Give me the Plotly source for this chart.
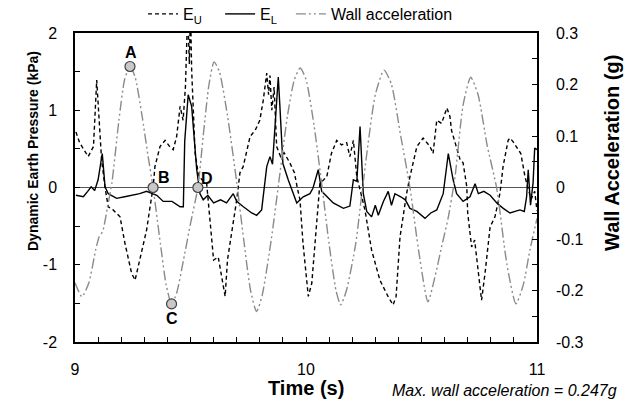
import plotly.graph_objects as go

# ---- data ----
wall_t = [9.000, 9.030, 9.060, 9.090, 9.105, 9.120, 9.140, 9.160, 9.190, 9.215, 9.238, 9.260, 9.290,
          9.315, 9.338, 9.370, 9.395, 9.418, 9.440, 9.470, 9.500, 9.532, 9.555, 9.580, 9.602, 9.625,
          9.660, 9.700, 9.730, 9.760, 9.786, 9.810, 9.850, 9.885, 9.920, 9.950, 9.975, 10.000, 10.035,
          10.070, 10.100, 10.130, 10.150, 10.175, 10.215, 10.245, 10.300, 10.338, 10.370, 10.410,
          10.450, 10.490, 10.528, 10.560, 10.587, 10.615, 10.645, 10.680, 10.713, 10.745, 10.785,
          10.825, 10.870, 10.909, 10.940, 10.970, 11.000]
wall_g = [-0.185, -0.212, -0.185, -0.120, -0.095, -0.085, -0.040, 0.010, 0.130, 0.210, 0.235, 0.215, 0.140,
          0.065, 0.000, -0.110, -0.190, -0.226, -0.205, -0.140, -0.070, 0.000, 0.100, 0.200, 0.244, 0.225,
          0.140, 0.010, -0.100, -0.200, -0.241, -0.210, -0.100, 0.020, 0.140, 0.210, 0.232, 0.210, 0.120,
          0.000, -0.110, -0.200, -0.228, -0.200, -0.110, 0.000, 0.180, 0.228, 0.200, 0.100,
          0.000, -0.130, -0.222, -0.170, -0.115, -0.060, 0.020, 0.160, 0.214, 0.180, 0.080,
          0.000, -0.150, -0.226, -0.190, -0.120, -0.060]

eu_t = [9.004, 9.020, 9.057, 9.080, 9.094, 9.108, 9.115, 9.130, 9.144, 9.165, 9.195, 9.216, 9.245, 9.260,
        9.280, 9.310, 9.325, 9.338, 9.346, 9.368, 9.390, 9.410, 9.425, 9.440, 9.455, 9.468, 9.478, 9.488,
        9.495, 9.500, 9.505, 9.520, 9.535, 9.550, 9.570, 9.584, 9.600, 9.620, 9.635, 9.650, 9.660, 9.685,
        9.700, 9.714, 9.728, 9.758, 9.780, 9.800, 9.815, 9.830, 9.838, 9.844, 9.852, 9.862, 9.873, 9.890,
        9.905, 9.930, 9.950, 9.962, 9.974, 9.987, 10.010, 10.025, 10.046, 10.060, 10.090, 10.110, 10.133,
        10.154, 10.176, 10.190, 10.205, 10.220, 10.234, 10.255, 10.284, 10.320, 10.355, 10.377, 10.390,
        10.407, 10.436, 10.450, 10.480, 10.507, 10.537, 10.550, 10.566, 10.587, 10.610, 10.623, 10.630,
        10.645, 10.667, 10.680, 10.696, 10.700, 10.717, 10.730, 10.740, 10.760, 10.775, 10.797, 10.818,
        10.840, 10.853, 10.875, 10.883, 10.897, 10.930, 10.948, 10.960, 10.975, 10.990, 11.000]
eu_p = [0.72, 0.58, 0.40, 0.53, 1.39, 0.79, 0.36, 0.00, -0.25, -0.29, -0.38, -0.72, -1.11, -1.20,
        -0.94, -0.55, -0.25, 0.00, 0.27, 0.53, 0.61, 0.53, 0.49, 0.66, 1.05, 0.87, 1.30, 2.30,
        1.60, 2.30, 1.52, 0.44, 0.15, 0.10, 0.05, -0.38, -0.94, -0.90, -1.15, -1.41, -0.94, -0.46,
        -0.16, 0.19, 0.27, 0.66, 0.74, 0.87, 1.13, 1.48, 1.20, 1.45, 1.00, 1.30, 0.53, 0.40,
        0.45, 0.32, 0.19, 0.00, -0.16, -0.72, -1.41, -1.24, -0.42, 0.05, 0.14, 0.44, 0.61,
        0.55, 0.58, 0.40, 0.61, 0.14, -0.03, -0.29, -0.81, -1.20, -1.41, -1.52, -1.41,
        -0.64, -0.07, 0.14, 0.53, 0.64, 0.53, 0.44, 0.87, 0.83, 1.03, 0.92, 0.74,
        0.58, 0.36, 0.32, 0.01, -0.33, -0.77, -0.68, -0.94, -1.46, -1.11, -0.51, -0.38,
        -0.07, 0.27, 0.61, 0.64, 0.59, 0.44, 0.14, 0.00, -0.15, -0.05, -0.30]

el_t = [9.004, 9.036, 9.055, 9.070, 9.085, 9.100, 9.118, 9.130, 9.144, 9.180, 9.215, 9.252, 9.280, 9.310,
        9.354, 9.382, 9.420, 9.455, 9.469, 9.475, 9.490, 9.505, 9.527, 9.541, 9.555, 9.575, 9.600, 9.630,
        9.656, 9.685, 9.700, 9.729, 9.765, 9.786, 9.808, 9.830, 9.844, 9.855, 9.866, 9.880, 9.887, 9.900,
        9.923, 9.945, 9.960, 9.988, 10.017, 10.030, 10.053, 10.068, 10.090, 10.118, 10.162, 10.190,
        10.205, 10.220, 10.234, 10.248, 10.263, 10.284, 10.300, 10.313, 10.335, 10.356, 10.370, 10.385,
        10.410, 10.430, 10.450, 10.480, 10.515, 10.540, 10.566, 10.594, 10.616, 10.637, 10.652, 10.680,
        10.710, 10.732, 10.746, 10.770, 10.797, 10.826, 10.854, 10.883, 10.926, 10.945, 10.955, 10.962,
        10.972, 10.983, 10.990, 11.000]
el_p = [-0.10, -0.12, -0.05, 0.01, -0.04, 0.10, 0.44, 0.01, -0.08, -0.14, -0.12, -0.10, -0.08, -0.05,
        -0.10, -0.18, -0.18, -0.25, -0.25, 0.60, 1.20, 1.05, 0.23, -0.08, -0.16, -0.10, -0.20, -0.16,
        -0.20, -0.08, -0.18, -0.25, -0.33, -0.36, -0.29, 0.27, 0.40, 0.30, 0.87, 1.43, 1.05, 0.31,
        0.10, -0.08, -0.20, -0.12, -0.08, -0.01, 0.23, -0.05, -0.12, -0.20, -0.27, -0.24,
        0.10, 0.08, 0.79, -0.08, -0.31, -0.38, -0.23, -0.36, -0.18, -0.05, -0.23, -0.08,
        -0.12, -0.16, -0.27, -0.31, -0.40, -0.33, -0.29, -0.08, 0.44, 0.10, -0.08, -0.18,
        -0.12, 0.05, -0.08, -0.05, -0.10, -0.20, -0.27, -0.33, -0.29, -0.31, -0.12, 0.23,
        -0.23, 0.06, 0.51, 0.49]

pt_labels = ["A", "B", "C", "D"]
pt_t = [9.238, 9.338, 9.418, 9.532]
pt_g = [0.235, 0.0, -0.226, 0.0]

x_ticks = [9, 10, 11]
x_ticktext = ["9", "10", "11"]
y_ticks = [-2, -1, 0, 1, 2]
y_ticktext = ["-2", "-1", "0", "1", "2"]
y2_ticks = [-0.3, -0.2, -0.1, 0, 0.1, 0.2, 0.3]
y2_ticktext = ["-0.3", "-0.2", "-0.1", "0", "0.1", "0.2", "0.3"]

FONT = "Liberation Sans, Arial, sans-serif"
L, R, T, B = 75, 101, 33, 66
PW, PH = 638 - L - R, 408 - T - B


def px_x(px):
    return (px - L) / PW


def px_y(py):
    return 1 - (py - T) / PH


fig = go.Figure()
fig.add_trace(go.Scatter(x=eu_t, y=eu_p, mode="lines", name="E<sub>U</sub>&nbsp;&nbsp;&nbsp;",
                         line=dict(color="black", width=1.4, dash="4px,3px")))
fig.add_trace(go.Scatter(x=el_t, y=el_p, mode="lines", name="E<sub>L</sub>&nbsp;&nbsp;",
                         line=dict(color="black", width=1.4)))
fig.add_trace(go.Scatter(x=wall_t, y=wall_g, mode="lines", name="Wall acceleration", yaxis="y2",
                         line=dict(color="#8a8a8a", width=1.4, dash="10px,3px,2px,3px,2px,3px",
                                   shape="spline", smoothing=0.6)))
fig.add_trace(go.Scatter(x=pt_t, y=pt_g, mode="markers", yaxis="y2", showlegend=False,
                         marker=dict(size=10, color="#c8c8c8", line=dict(color="#404040", width=1.2))))

offsets = {"A": (1, -14), "B": (11, -10), "C": (0, 15), "D": (9, -9)}
for lab, t, g in zip(pt_labels, pt_t, pt_g):
    ax, ay = offsets[lab]
    fig.add_annotation(x=t, y=g, yref="y2", text="<b>%s</b>" % lab, showarrow=False,
                       xshift=ax, yshift=-ay, font=dict(family=FONT, size=16, color="black"))

# axis titles and note placed as in the reference
fig.add_annotation(xref="paper", yref="paper", x=px_x(306), y=px_y(388), text="<b>Time (s)</b>",
                   showarrow=False, xanchor="center", yanchor="middle",
                   font=dict(family=FONT, size=20, color="black"))
fig.add_annotation(xref="paper", yref="paper", x=px_x(390), y=px_y(390),
                   text="<i>Max. wall acceleration = 0.247g</i>", showarrow=False, xanchor="left",
                   yanchor="middle", font=dict(family=FONT, size=16, color="black"))
fig.add_annotation(xref="paper", yref="paper", x=px_x(33), y=px_y(151),
                   text="<b>Dynamic Earth Pressure (kPa)</b>", showarrow=False, textangle=-90,
                   xanchor="center", yanchor="middle", font=dict(family=FONT, size=14, color="black"))
fig.add_annotation(xref="paper", yref="paper", x=px_x(612), y=px_y(153),
                   text="<b>Wall Acceleration (g)</b>", showarrow=False, textangle=-90,
                   xanchor="center", yanchor="middle", font=dict(family=FONT, size=20, color="black"))

fig.update_layout(
    width=638, height=408,
    margin=dict(l=L, r=R, t=T, b=B, autoexpand=False),
    paper_bgcolor="white", plot_bgcolor="white",
    font=dict(family=FONT, size=16, color="black"),
    showlegend=True,
    legend=dict(orientation="h", x=px_x(143), y=px_y(14), yanchor="middle", xanchor="left",
                font=dict(family=FONT, size=16), itemwidth=30, bgcolor="rgba(0,0,0,0)"),
    xaxis=dict(range=[9, 11], tickvals=x_ticks, ticktext=x_ticktext, showgrid=False, zeroline=False,
               showline=True, linecolor="black", linewidth=1.5, mirror=True,
               ticks="inside", ticklen=5, tickcolor="black", ticklabelstandoff=12,
               minor=dict(dtick=0.1, ticks="inside", ticklen=5, tickcolor="black"),
               tickfont=dict(size=16), automargin=False),
    yaxis=dict(range=[-2, 2], tickvals=y_ticks, ticktext=y_ticktext, showgrid=False, zeroline=True,
               zerolinecolor="#555555", zerolinewidth=1.2, showline=True, linecolor="black", linewidth=1.5,
               ticks="inside", ticklen=5, tickcolor="black", ticklabelstandoff=13,
               minor=dict(dtick=0.5, ticks="inside", ticklen=5, tickcolor="black"),
               tickfont=dict(size=16), automargin=False),
    yaxis2=dict(range=[-0.3, 0.3], tickvals=y2_ticks, ticktext=y2_ticktext, overlaying="y", side="right",
                showgrid=False, zeroline=False, showline=True, linecolor="black", linewidth=1.5,
                ticks="inside", ticklen=5, tickcolor="black", ticklabelstandoff=14,
                minor=dict(dtick=0.05, ticks="inside", ticklen=5, tickcolor="black"),
                tickfont=dict(size=16), automargin=False),
)

fig.write_html("out.html", config={"displayModeBar": False},
               post_script="document.body.style.margin='0';")
